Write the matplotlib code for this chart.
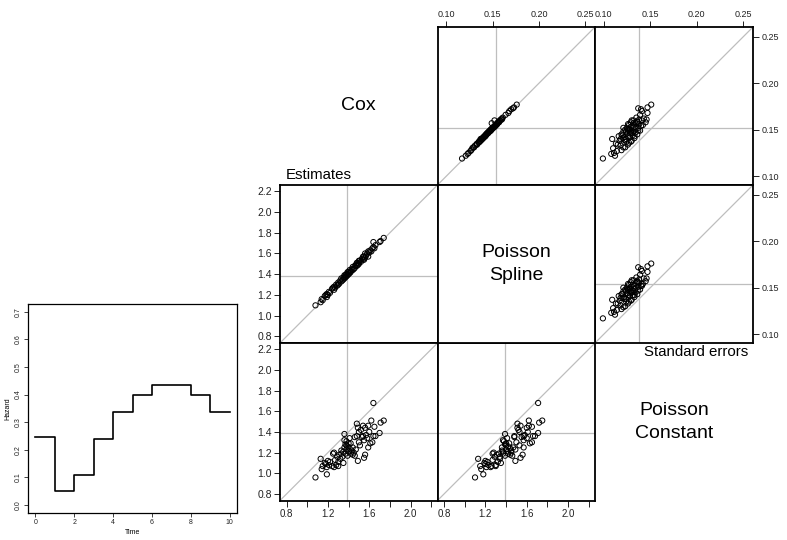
import numpy as np
import matplotlib
matplotlib.use("Agg")
import matplotlib.pyplot as plt

plt.rcParams['font.family'] = ['Liberation Sans', 'DejaVu Sans']

# baseline hazard (piecewise constant)
haz_time = [0, 1, 2, 3, 4, 5, 6, 7, 8, 9, 10]
haz_value = [0.245, 0.05, 0.11, 0.24, 0.335, 0.40, 0.435, 0.435, 0.40, 0.335, 0.335]

# simulated log hazard ratio estimates
cox_est = [1.08, 1.13, 1.14, 1.15, 1.17, 1.18, 1.19, 1.19, 1.20, 1.21,
           1.22, 1.24, 1.25, 1.26, 1.26, 1.27, 1.28, 1.29, 1.30, 1.30,
           1.31, 1.32, 1.33, 1.33, 1.34, 1.35, 1.35, 1.36, 1.36, 1.37,
           1.37, 1.38, 1.38, 1.39, 1.39, 1.40, 1.40, 1.41, 1.41, 1.42,
           1.43, 1.44, 1.44, 1.45, 1.46, 1.46, 1.47, 1.48, 1.48, 1.49,
           1.49, 1.50, 1.50, 1.51, 1.52, 1.53, 1.54, 1.54, 1.55, 1.55,
           1.56, 1.56, 1.57, 1.58, 1.59, 1.59, 1.60, 1.61, 1.62, 1.63,
           1.64, 1.64, 1.65, 1.66, 1.70, 1.71, 1.74, 1.36, 1.38, 1.42]
spline_est = [1.10, 1.13, 1.16, 1.15, 1.19, 1.20, 1.18, 1.21, 1.20, 1.23,
              1.22, 1.26, 1.27, 1.25, 1.28, 1.27, 1.30, 1.29, 1.32, 1.30,
              1.31, 1.34, 1.33, 1.36, 1.34, 1.37, 1.35, 1.39, 1.36, 1.39,
              1.37, 1.40, 1.38, 1.42, 1.39, 1.40, 1.42, 1.41, 1.44, 1.42,
              1.45, 1.44, 1.47, 1.45, 1.48, 1.46, 1.49, 1.48, 1.51, 1.49,
              1.51, 1.50, 1.53, 1.53, 1.52, 1.55, 1.54, 1.57, 1.54, 1.57,
              1.56, 1.60, 1.58, 1.60, 1.57, 1.62, 1.61, 1.63, 1.62, 1.65,
              1.71, 1.66, 1.65, 1.68, 1.71, 1.72, 1.75, 1.37, 1.40, 1.43]
const_est = [0.96, 1.14, 1.04, 1.07, 1.10, 1.09, 0.99, 1.06, 1.12, 1.08,
             1.11, 1.07, 1.19, 1.06, 1.20, 1.13, 1.08, 1.16, 1.11, 1.07,
             1.18, 1.14, 1.19, 1.22, 1.16, 1.21, 1.10, 1.38, 1.25, 1.28,
             1.19, 1.23, 1.31, 1.26, 1.17, 1.29, 1.21, 1.34, 1.24, 1.19,
             1.22, 1.18, 1.25, 1.20, 1.35, 1.17, 1.23, 1.36, 1.48, 1.12,
             1.44, 1.30, 1.40, 1.27, 1.42, 1.35, 1.46, 1.36, 1.15, 1.32,
             1.18, 1.44, 1.37, 1.34, 1.25, 1.46, 1.40, 1.29, 1.51, 1.30,
             1.68, 1.36, 1.45, 1.36, 1.39, 1.49, 1.51, 1.32, 1.27, 1.29]

# standard errors of the estimates
cox_se = [0.119, 0.124, 0.122, 0.130, 0.127, 0.133, 0.125, 0.131, 0.135, 0.128,
          0.137, 0.134, 0.140, 0.131, 0.138, 0.136, 0.141, 0.134, 0.143, 0.137,
          0.140, 0.145, 0.138, 0.142, 0.146, 0.140, 0.144, 0.148, 0.141, 0.146,
          0.139, 0.149, 0.143, 0.147, 0.142, 0.150, 0.145, 0.151, 0.144, 0.148,
          0.152, 0.146, 0.149, 0.153, 0.148, 0.151, 0.155, 0.149, 0.157, 0.152,
          0.158, 0.150, 0.154, 0.160, 0.153, 0.156, 0.161, 0.155, 0.158, 0.152,
          0.157, 0.160, 0.154, 0.159, 0.162, 0.156, 0.160, 0.158, 0.166, 0.161,
          0.170, 0.173, 0.163, 0.168, 0.172, 0.174, 0.177, 0.147, 0.143, 0.150]
spline_se = [0.117, 0.123, 0.121, 0.128, 0.126, 0.131, 0.124, 0.129, 0.133, 0.127,
             0.135, 0.133, 0.137, 0.130, 0.136, 0.135, 0.139, 0.133, 0.141, 0.136,
             0.138, 0.143, 0.137, 0.140, 0.144, 0.139, 0.142, 0.146, 0.140, 0.144,
             0.138, 0.147, 0.142, 0.145, 0.141, 0.148, 0.143, 0.149, 0.143, 0.146,
             0.150, 0.145, 0.147, 0.151, 0.147, 0.149, 0.153, 0.148, 0.149, 0.150,
             0.156, 0.149, 0.152, 0.158, 0.152, 0.154, 0.159, 0.154, 0.156, 0.151,
             0.155, 0.152, 0.153, 0.157, 0.160, 0.155, 0.158, 0.157, 0.164, 0.160,
             0.168, 0.172, 0.161, 0.167, 0.170, 0.173, 0.176, 0.145, 0.142, 0.148]
const_se = [0.099, 0.108, 0.112, 0.110, 0.114, 0.118, 0.111, 0.121, 0.113, 0.119,
            0.124, 0.115, 0.109, 0.123, 0.117, 0.127, 0.120, 0.126, 0.116, 0.129,
            0.124, 0.119, 0.130, 0.122, 0.128, 0.118, 0.131, 0.121, 0.133, 0.125,
            0.122, 0.130, 0.126, 0.134, 0.128, 0.123, 0.136, 0.127, 0.120, 0.132,
            0.125, 0.130, 0.137, 0.129, 0.124, 0.134, 0.127, 0.139, 0.132, 0.121,
            0.136, 0.128, 0.140, 0.130, 0.133, 0.126, 0.138, 0.142, 0.129, 0.137,
            0.134, 0.141, 0.131, 0.136, 0.143, 0.138, 0.132, 0.145, 0.139, 0.146,
            0.141, 0.137, 0.135, 0.147, 0.140, 0.147, 0.151, 0.129, 0.133, 0.126]

# reference lines: true value and empirical SD of each estimator
true_value = 1.386
sd_cox = 0.1515
sd_spline = 0.154
sd_const = 0.1375

est_ticks = [0.8, 1.0, 1.2, 1.4, 1.6, 1.8, 2.0, 2.2]
se_ticks = [0.10, 0.15, 0.20, 0.25]
est_lim = (0.737, 2.26)
se_lim = (0.0905, 0.2605)

W, H = 787, 540
fig = plt.figure(figsize=(W / 100, H / 100), dpi=100)


def px_axes(left, top, right, bottom):
    # axes from pixel box (top-left origin)
    return fig.add_axes([left / W, 1 - bottom / H, (right - left) / W, (bottom - top) / H])


def scatter_panel(ax, x, y, vx, hy, lim):
    ax.scatter(x, y, s=14, facecolors='none', edgecolors='black', linewidths=0.7, zorder=3)
    ax.axline((lim[0], lim[0]), slope=1, color='#BEBEBE', lw=0.9, zorder=1)
    ax.axvline(vx, color='#BEBEBE', lw=0.9, zorder=1)
    ax.axhline(hy, color='#BEBEBE', lw=0.9, zorder=1)
    ax.set_xlim(lim)
    ax.set_ylim(lim)
    ax.set_xticks([])
    ax.set_yticks([])
    for sp in ax.spines.values():
        sp.set_linewidth(1.3)


# hazard plot
axh = px_axes(27.7, 304, 237.3, 512.7)
axh.step(haz_time, haz_value, where='post', color='black', lw=1.2)
axh.set_xlim(-0.4, 10.4)
axh.set_ylim(-0.028, 0.728)
axh.set_xticks([0, 2, 4, 6, 8, 10])
axh.set_yticks([0.0, 0.1, 0.2, 0.3, 0.4, 0.5, 0.6, 0.7])
axh.set_yticklabels(["0.0", "0.1", "0.2", "0.3", "0.4", "0.5", "0.6", "0.7"], rotation=90, va='center')
axh.tick_params(labelsize=5, length=3, width=0.6, pad=1.5, colors='#222222')
axh.set_xlabel("Time", fontsize=5, labelpad=2)
axh.set_ylabel("Hazard", fontsize=5, labelpad=2)
for sp in axh.spines.values():
    sp.set_linewidth(0.9)

# matrix of panels
cols = [280, 437.5, 595, 753]
rows = [27, 185, 343, 500.5]

# upper triangle: standard errors
ax01 = px_axes(cols[1], rows[0], cols[2], rows[1])
scatter_panel(ax01, spline_se, cox_se, sd_spline, sd_cox, se_lim)
ax02 = px_axes(cols[2], rows[0], cols[3], rows[1])
scatter_panel(ax02, const_se, cox_se, sd_const, sd_cox, se_lim)
ax12 = px_axes(cols[2], rows[1], cols[3], rows[2])
scatter_panel(ax12, const_se, spline_se, sd_const, sd_spline, se_lim)

# lower triangle: estimates
ax10 = px_axes(cols[0], rows[1], cols[1], rows[2])
scatter_panel(ax10, cox_est, spline_est, true_value, true_value, est_lim)
ax20 = px_axes(cols[0], rows[2], cols[1], rows[3])
scatter_panel(ax20, cox_est, const_est, true_value, true_value, est_lim)
ax21 = px_axes(cols[1], rows[2], cols[2], rows[3])
scatter_panel(ax21, spline_est, const_est, true_value, true_value, est_lim)

# diagonal label panel with frame
ax11 = px_axes(cols[1], rows[1], cols[2], rows[2])
ax11.set_xticks([])
ax11.set_yticks([])
for sp in ax11.spines.values():
    sp.set_linewidth(1.3)
ax11.text(0.5, 0.5, "Poisson\nSpline", ha='center', va='center', fontsize=14,
          linespacing=1.45, transform=ax11.transAxes)

fig.text((cols[0] + cols[1]) / 2 / W, 1 - (rows[0] + rows[1]) / 2 / H, "Cox",
         ha='center', va='center', fontsize=14)
fig.text((cols[2] + cols[3]) / 2 / W, 1 - (rows[2] + rows[3]) / 2 / H, "Poisson\nConstant",
         ha='center', va='center', fontsize=14, linespacing=1.45)

# axis labels on the outside of the matrix
tick_kw = dict(length=4.5, width=0.7, pad=1.5, colors='#222222')
for ax in (ax01, ax02):
    ax.xaxis.set_ticks_position('top')
    ax.set_xticks(se_ticks)
    ax.set_xticklabels(["0.10", "0.15", "0.20", "0.25"])
    ax.tick_params(axis='x', labelsize=6.5, **tick_kw)
for ax in (ax02, ax12):
    ax.yaxis.set_ticks_position('right')
    ax.set_yticks(se_ticks)
    ax.set_yticklabels(["0.10", "0.15", "0.20", "0.25"])
    ax.tick_params(axis='y', labelsize=6.5, **tick_kw)
for ax in (ax10, ax20):
    ax.set_yticks(est_ticks)
    ax.set_yticklabels(["%.1f" % t for t in est_ticks])
    ax.tick_params(axis='y', labelsize=7.5, **tick_kw)
for ax in (ax20, ax21):
    ax.set_xticks(est_ticks)
    ax.set_xticklabels(["0.8", "", "1.2", "", "1.6", "", "2.0", ""])
    ax.tick_params(axis='x', labelsize=7, **tick_kw)

fig.text(286 / W, 1 - 175 / H, "Estimates", ha='left', va='center', fontsize=10.8)
fig.text(748 / W, 1 - 352 / H, "Standard errors", ha='right', va='center', fontsize=10.8)

fig.savefig("out.png", dpi=100)
